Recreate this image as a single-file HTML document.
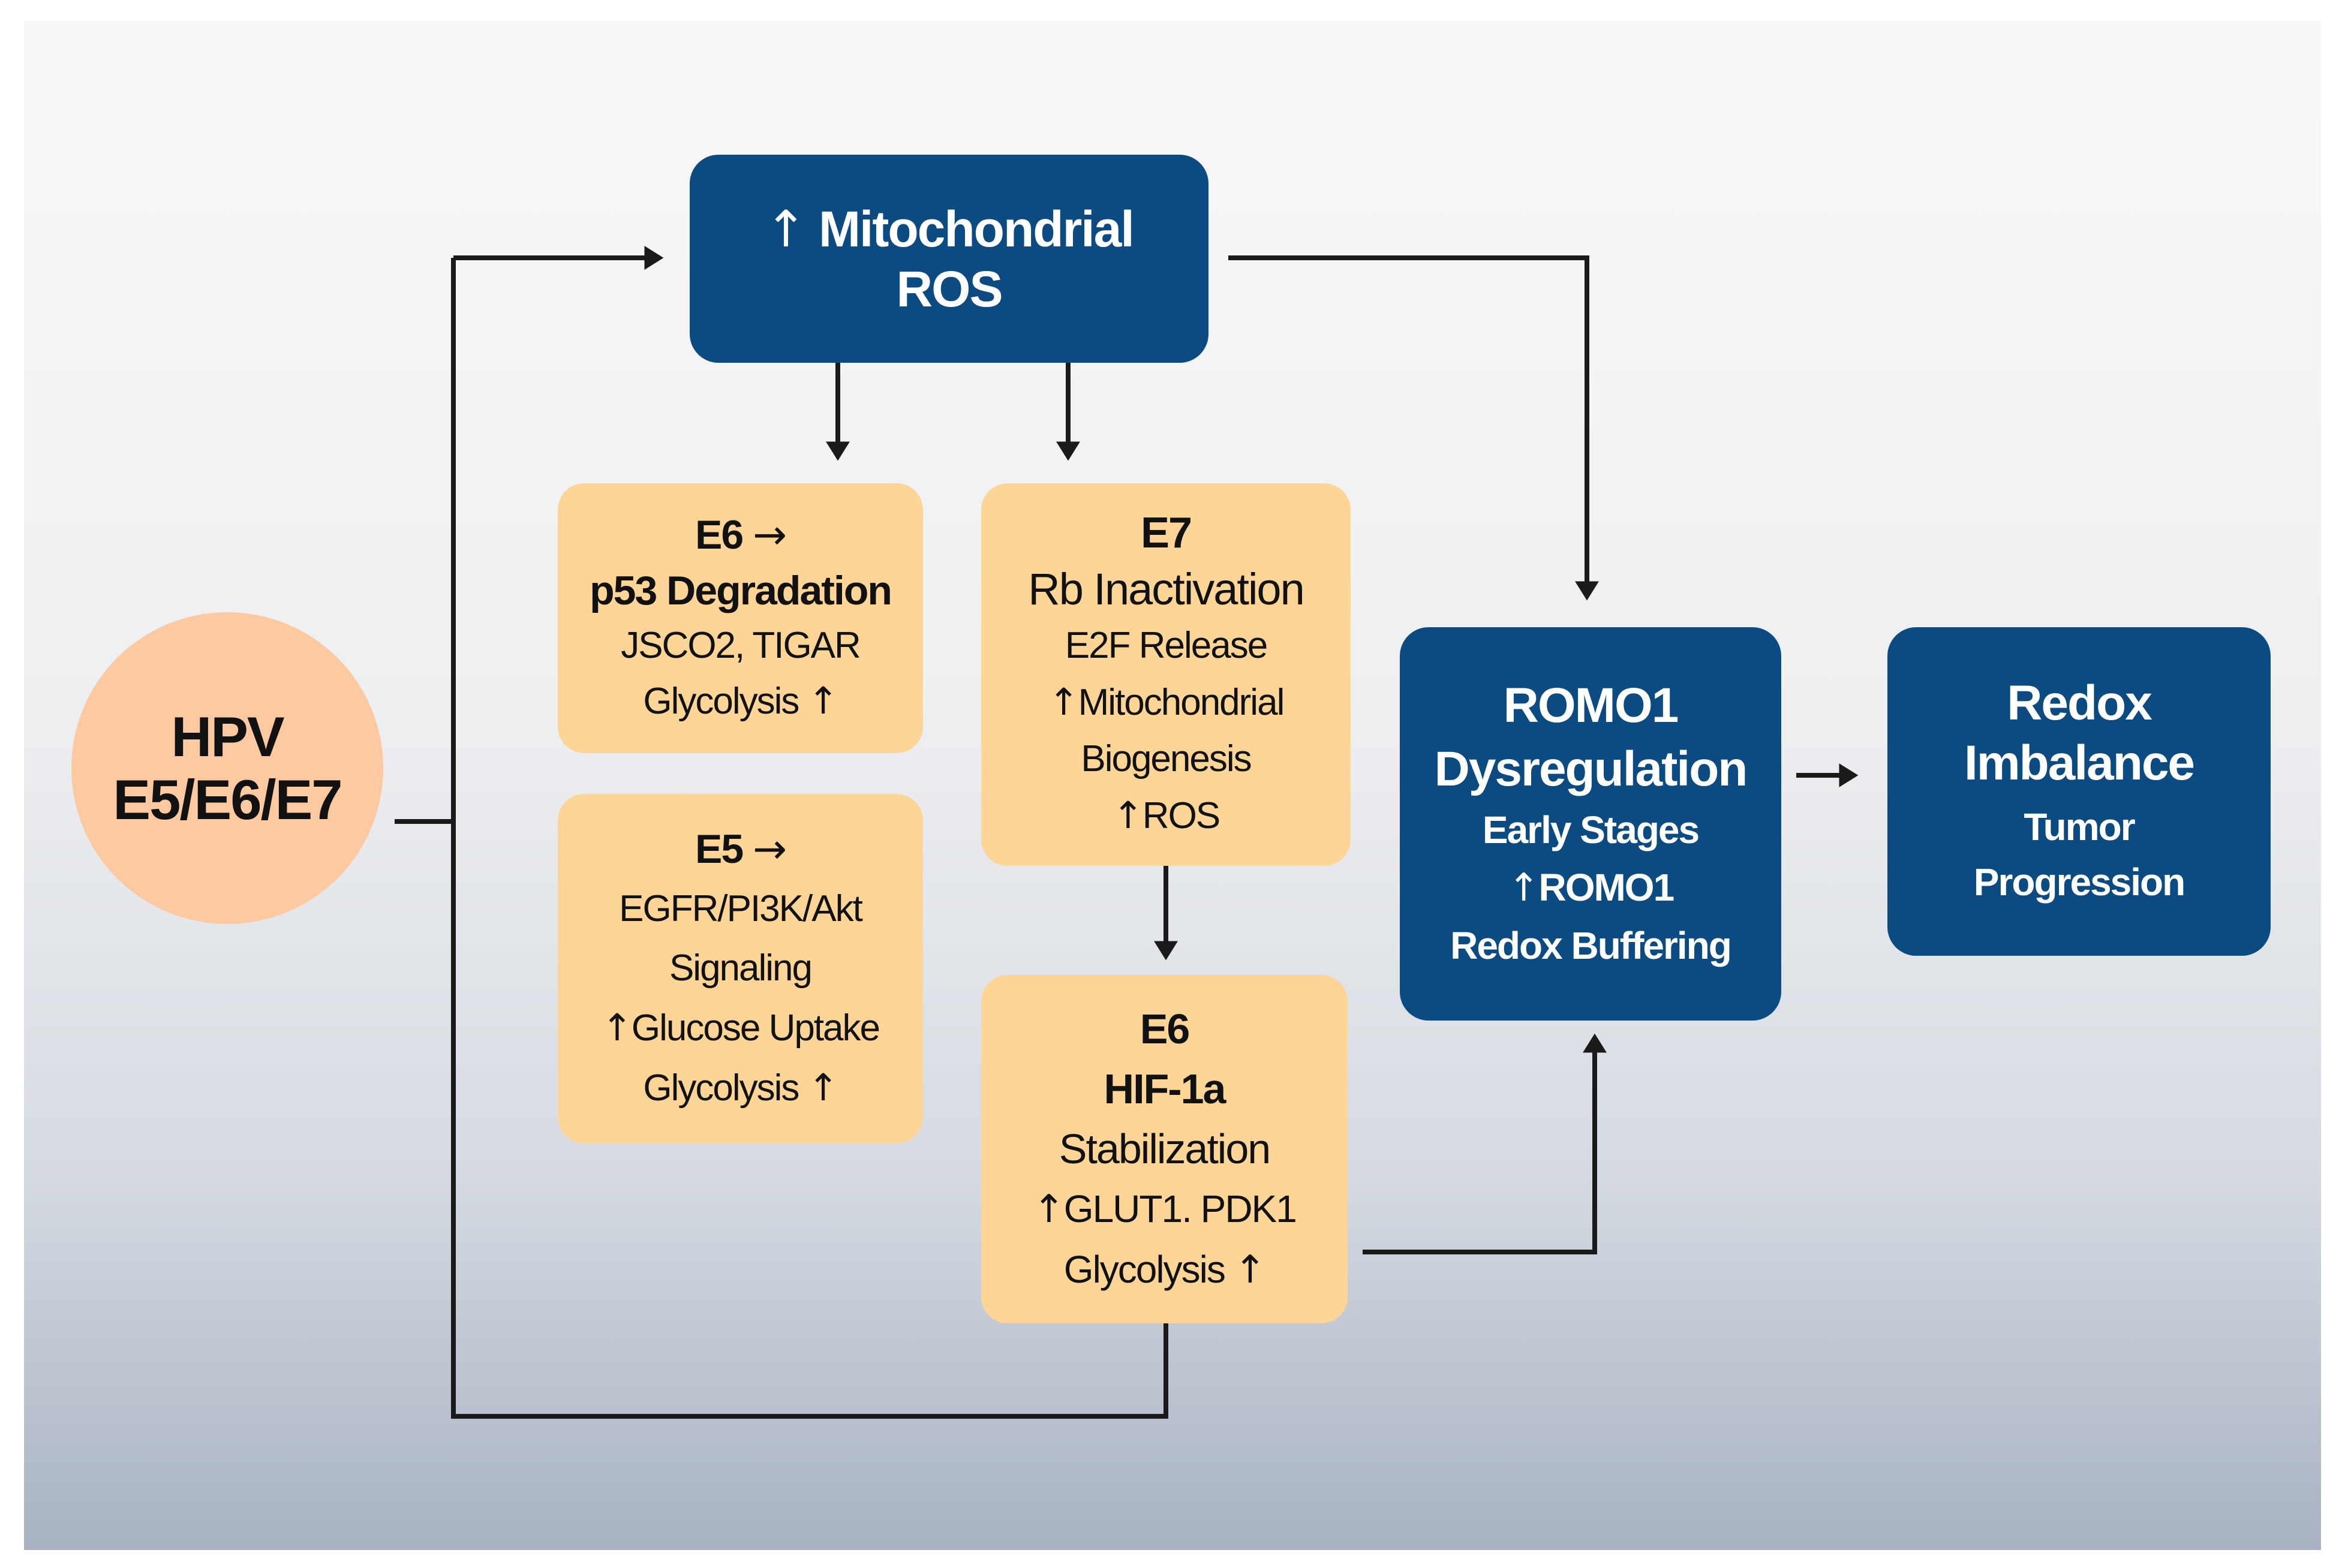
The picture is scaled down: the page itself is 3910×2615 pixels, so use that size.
<!DOCTYPE html>
<html><head><meta charset="utf-8"><style>
html,body{margin:0;padding:0}
body{width:3910px;height:2615px;background:#fff;position:relative;overflow:hidden;font-family:"Liberation Sans",sans-serif}
#bg{position:absolute;left:40px;top:35px;width:3830px;height:2550px;background:linear-gradient(#f8f8f8 0%,#eeeff1 45%,#d6dbe2 75%,#a8b2c2 100%)}
.b{position:absolute;display:flex;flex-direction:column;justify-content:center;align-items:center;text-align:center;box-sizing:border-box;letter-spacing:-2px}
.d{background:#0c4a82;color:#fff;border-radius:48px;font-weight:bold}
.o{background:#fdd596;color:#111;border-radius:44px}
.t{font-weight:bold}
.u{font-family:"DejaVu Sans",sans-serif;font-weight:normal}
</style></head><body>
<div id="bg"></div>
<svg width="3910" height="2615" style="position:absolute;left:0;top:0">
<defs><marker id="a" markerWidth="6" markerHeight="6" refX="3.2" refY="2.5" orient="auto" markerUnits="strokeWidth"><path d="M0,0 L4,2.5 L0,5 Z" fill="#1a1a1a"/></marker></defs>
<g stroke="#1a1a1a" stroke-width="8" fill="none">
<path d="M658 1370 H756"/>
<path d="M756 430 V2362 H1944 V2207"/>
<path d="M756 430 H1100" marker-end="url(#a)"/>
<path d="M1397 605 V762" marker-end="url(#a)"/>
<path d="M1781 605 V762" marker-end="url(#a)"/>
<path d="M2048 430 H2646 V995" marker-end="url(#a)"/>
<path d="M1944 1444 V1595" marker-end="url(#a)"/>
<path d="M2272 2088 H2659 V1730" marker-end="url(#a)"/>
<path d="M2995 1293 H3092" marker-end="url(#a)"/>
</g></svg>
<div class="b" style="left:119px;top:1021px;width:520px;height:520px;border-radius:50%;background:#fcc9a0;font-weight:bold;font-size:94px;line-height:105px;color:#111">HPV<br>E5/E6/E7</div>
<div class="b d" style="left:1150px;top:258px;width:865px;height:347px;font-size:84px;line-height:100px"><span><span class="u">↑</span> Mitochondrial</span>ROS</div>
<div class="b o" style="left:930px;top:806px;width:609px;height:450px;font-size:62px;line-height:92px"><span class="t" style="font-size:68px">E6 <span class="u">→</span></span><span class="t" style="font-size:68px">p53 Degradation</span>JSCO2, TIGAR<br><span>Glycolysis <span class="u">↑</span></span></div>
<div class="b o" style="left:930px;top:1324px;width:609px;height:583px;font-size:62px;line-height:99px"><span class="t" style="font-size:68px">E5 <span class="u">→</span></span>EGFR/PI3K/Akt<br>Signaling<br><span><span class="u">↑</span>Glucose Uptake</span><span>Glycolysis <span class="u">↑</span></span></div>
<div class="b o" style="left:1636px;top:806px;width:616px;height:638px;font-size:62px;line-height:94px"><span class="t" style="font-size:72px">E7</span><span style="font-size:74px">Rb Inactivation</span>E2F Release<br><span><span class="u">↑</span>Mitochondrial</span>Biogenesis<br><span><span class="u">↑</span>ROS</span></div>
<div class="b o" style="left:1636px;top:1626px;width:611px;height:581px;font-size:64px;line-height:100px"><span class="t" style="font-size:70px">E6</span><span class="t" style="font-size:70px">HIF-1a</span><span style="font-size:70px">Stabilization</span><span><span class="u">↑</span>GLUT1. PDK1</span><span>Glycolysis <span class="u">↑</span></span></div>
<div class="b d" style="left:2334px;top:1046px;width:636px;height:656px;font-size:64px;line-height:96px"><span style="font-size:82px;line-height:106px">ROMO1<br>Dysregulation</span>Early Stages<br><span><span class="u">↑</span>ROMO1</span>Redox Buffering</div>
<div class="b d" style="left:3147px;top:1046px;width:639px;height:548px;font-size:64px;line-height:92px"><span style="font-size:82px;line-height:100px;margin-bottom:10px">Redox<br>Imbalance</span>Tumor<br>Progression</div>
</body></html>
